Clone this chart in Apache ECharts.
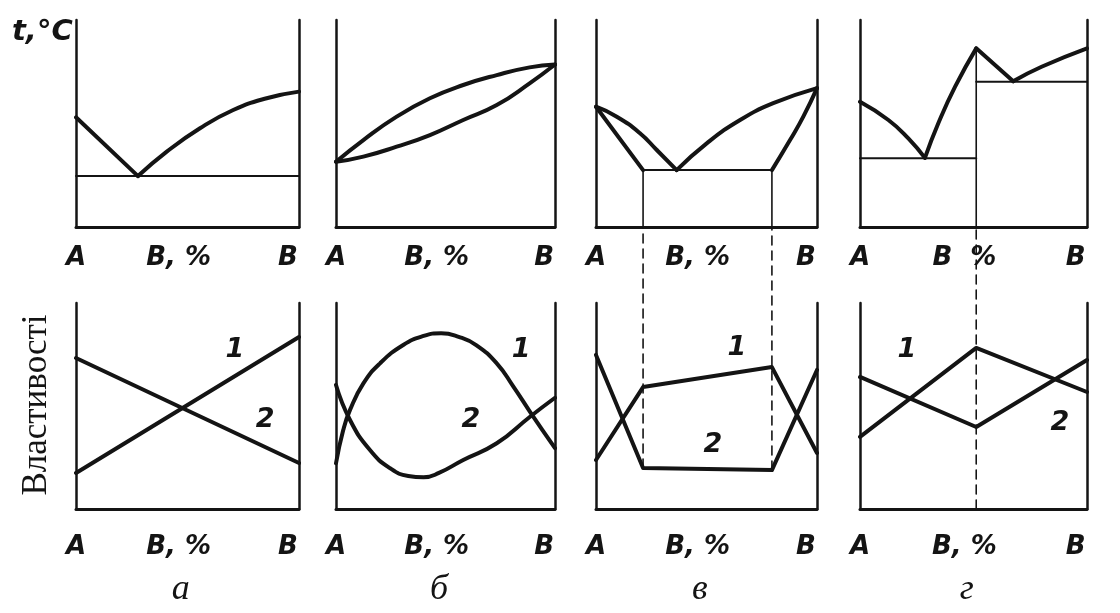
<!DOCTYPE html>
<html>
<head>
<meta charset="utf-8">
<script src="https://cdn.jsdelivr.net/npm/echarts@6/dist/echarts.min.js"></script>
<style>
  html, body { margin: 0; padding: 0; background: #fff; }
  #chart { width: 1120px; height: 613px; }
</style>
</head>
<body>
<div id="chart"></div>
<script>
// Composition axis labels (A ... B) and their positions along the 0–100 % axis
const xTickLabels = ['А', 'В, %', 'В'];
const xTickLabelsG = ['А', 'В  %', 'В'];
const xTickPos = [0, 46, 95];
const panelNames = ['а', 'б', 'в', 'г'];

// --- Phase diagrams (top row), temperature in relative units 0–100 ---
// а: eutectic system, no solubility
const aLiquidusLeft = [[0, 53], [27.8, 24.6]];
const aLiquidusRight = [[27.8, 24.6], [40.7, 36.4], [55.6, 47.7], [70.5, 56.5], [85.5, 62.2], [100, 65.4]];
const aEutectic = [[0, 24.6], [100, 24.6]];

// б: complete solid solubility
const bLiquidus = [[0, 31.5], [12.5, 42], [27.7, 53.3], [42.9, 62.2], [58.1, 68.6], [73.4, 73.4], [88.4, 77.1], [100, 78.5]];
const bSolidus = [[0, 31.5], [12.5, 34], [27.7, 38.8], [42.9, 44.4], [58.1, 51.7], [73.4, 58.9], [88.4, 69.4], [100, 78.5]];

// в: eutectic with limited solubility
const vLiquidusLeft = [[0, 58.1], [9.4, 53.3], [19.9, 45.3], [27.5, 37.2], [36.5, 27.5]];
const vSolidusLeft = [[0, 58.1], [21.3, 27.5]];
const vLiquidusRight = [[36.5, 27.5], [50.1, 40.4], [65.2, 51.7], [80.2, 59.8], [100, 67.1]];
const vSolidusRight = [[79.6, 27.5], [87.8, 42], [93.8, 53.3], [100, 67.1]];
const vEutectic = [[21.3, 27.5], [79.6, 27.5]];
const vSolvusLeft = [[21.3, 0], [21.3, 27.5]];
const vSolvusRight = [[79.6, 0], [79.6, 27.5]];

// г: chemical compound
const gLiquidusLeft = [[0, 60.5], [12.5, 51.7], [21.3, 42.8], [28.6, 33.4]];
const gLiquidusRise = [[28.6, 33.4], [34.5, 50.1], [41.9, 67.8], [51.2, 86.3]];
const gLiquidusFall = [[51.2, 86.3], [67.5, 70.4]];
const gLiquidusRight = [[67.5, 70.4], [80, 77.4], [100, 86.3]];
const gEutectic1 = [[0, 33.2], [51.2, 33.2]];
const gEutectic2 = [[51.2, 70.2], [100, 70.2]];
const gCompound = [[51.2, 0], [51.2, 86.3]];

// --- Properties (bottom row), relative units 0–100 ---
const aProp1 = [[0, 17.5], [100, 83.5]];
const aProp2 = [[0, 73.3], [100, 22.3]];
const bProp1 = [[0, 22.2], [3.3, 38.3], [6.4, 48.1], [12.5, 61], [20.1, 70.7], [30.7, 79.6], [40, 84],
                [48, 85.3], [56, 83.6], [64, 79.6], [73.4, 70.7], [81, 59.4], [88.6, 47.2], [100, 29.5]];
const bProp2 = [[0, 60.2], [6.4, 43.2], [15.5, 28.6], [24.7, 19.8], [33, 16], [40, 15.4], [47, 17.5],
                [58.1, 23.8], [73.4, 31.9], [88.6, 44.8], [100, 54]];
const vProp1 = [[0, 23.8], [21.3, 59.2], [79.6, 68.9], [100, 27.2]];
const vProp2 = [[0, 74.8], [21.3, 19.9], [79.6, 18.9], [100, 67.5]];
const gProp1 = [[0, 35], [51.2, 78.2], [100, 56.8]];
const gProp2 = [[0, 64.1], [51.2, 39.8], [100, 72.3]];

// Guide lines carried down from the phase diagrams (bottom-grid units; 136.9 reaches the upper frame)
const vGuideLeft = [[21.3, 19.9], [21.3, 136.9]];
const vGuideRight = [[79.6, 18.9], [79.6, 136.9]];
const gGuide = [[51.2, 0], [51.2, 136.9]];

// Curve numbers in each properties panel
const curveTags = [
  [['1', 71.3, 77.2], ['2', 84.8, 43.2]],
  [['1', 84.5, 77.2], ['2', 61.6, 43.2]],
  [['1', 63.8, 78.2], ['2', 52.9, 31.1]],
  [['1', 20.7, 77.2], ['2', 88.1, 41.7]]
];

// ---------- layout ----------
const colLeft = [76, 336, 596, 860];
const colWidth = [223, 219, 221, 227];
const rowTop = [20, 303];
const rowHeight = [207, 206];
const INK = '#141414';
const labelFont = '"DejaVu Sans", sans-serif';

const grids = [], xAxes = [], yAxes = [], series = [];
for (let r = 0; r < 2; r++) {
  for (let c = 0; c < 4; c++) {
    const i = r * 4 + c;
    grids.push({ left: colLeft[c], top: rowTop[r], width: colWidth[c], height: rowHeight[r] });
    const labels = (r === 0 && c === 3) ? xTickLabelsG : xTickLabels;
    xAxes.push({
      gridIndex: i, type: 'value', min: 0, max: 100,
      axisLine: { show: true, onZero: false, lineStyle: { color: INK, width: 3 } },
      axisTick: { show: false }, splitLine: { show: false },
      axisLabel: {
        customValues: xTickPos,
        formatter: v => labels[xTickPos.indexOf(v)],
        margin: r === 0 ? 18 : 25,
        color: INK, fontSize: 26, fontStyle: 'italic', fontWeight: 'bold', fontFamily: labelFont
      }
    });
  }
}
for (let i = 0; i < 8; i++) {
  yAxes.push({
    gridIndex: i, type: 'value', min: 0, max: 100, position: 'left',
    axisLine: { show: true, onZero: false, lineStyle: { color: INK, width: 2.5 } },
    axisTick: { show: false }, axisLabel: { show: false }, splitLine: { show: false }
  });
}
for (let i = 0; i < 8; i++) {
  yAxes.push({
    gridIndex: i, type: 'value', min: 0, max: 100, position: 'right',
    axisLine: { show: true, onZero: false, lineStyle: { color: INK, width: 2.5 } },
    axisTick: { show: false }, axisLabel: { show: false }, splitLine: { show: false }
  });
}

function curve(grid, data, width, opts) {
  const o = opts || {};
  series.push({
    type: 'line', xAxisIndex: grid, yAxisIndex: grid, data: data,
    showSymbol: false, symbol: 'none', silent: true, animation: false,
    smooth: o.smooth || false,
    clip: o.clip !== undefined ? o.clip : true,
    lineStyle: { color: INK, width: width, type: o.dash || 'solid', cap: 'round', join: 'round' },
    z: o.z || 3
  });
}

const THICK = 4, THIN = 2, SM = 0.5;
// top row
curve(0, aLiquidusLeft, THICK);
curve(0, aLiquidusRight, THICK, { smooth: SM });
curve(0, aEutectic, THIN);

curve(1, bLiquidus, THICK, { smooth: SM });
curve(1, bSolidus, THICK, { smooth: SM });

curve(2, vLiquidusLeft, THICK, { smooth: SM });
curve(2, vSolidusLeft, THICK);
curve(2, vLiquidusRight, THICK, { smooth: SM });
curve(2, vSolidusRight, THICK, { smooth: SM });
curve(2, vEutectic, THIN);
curve(2, vSolvusLeft, 1.6);
curve(2, vSolvusRight, 1.6);

curve(3, gLiquidusLeft, THICK, { smooth: SM });
curve(3, gLiquidusRise, THICK, { smooth: SM });
curve(3, gLiquidusFall, THICK);
curve(3, gLiquidusRight, THICK, { smooth: SM });
curve(3, gEutectic1, THIN);
curve(3, gEutectic2, THIN);
curve(3, gCompound, 1.6);

// bottom row
curve(4, aProp1, THICK);
curve(4, aProp2, THICK);
curve(5, bProp1, THICK, { smooth: SM });
curve(5, bProp2, THICK, { smooth: SM });
curve(6, vProp1, THICK);
curve(6, vProp2, THICK);
curve(7, gProp1, THICK);
curve(7, gProp2, THICK);

curve(6, vGuideLeft, 1.6, { dash: [9, 6], clip: false, z: 2 });
curve(6, vGuideRight, 1.6, { dash: [9, 6], clip: false, z: 2 });
curve(7, gGuide, 1.6, { dash: [9, 6], clip: false, z: 2 });

curveTags.forEach((tags, c) => {
  series.push({
    type: 'scatter', xAxisIndex: 4 + c, yAxisIndex: 4 + c, silent: true, animation: false,
    symbolSize: 0, itemStyle: { color: INK, opacity: 1 },
    data: tags.map(t => ({ name: t[0], value: [t[1], t[2]] })),
    label: {
      show: true, position: 'inside', formatter: '{b}', color: INK, opacity: 1,
      textBorderWidth: 0,
      fontSize: 27, fontStyle: 'italic', fontWeight: 'bold', fontFamily: labelFont
    },
    z: 5
  });
});

// Captions: temperature axis, properties axis, panel letters
const graphics = [
  {
    type: 'text', left: 12, top: 18,
    style: { text: 't,°C', fill: INK, font: 'italic bold 29px "DejaVu Sans", sans-serif' }
  },
  {
    type: 'text', x: 37, y: 405, rotation: Math.PI / 2,
    style: {
      text: 'Властивості', fill: INK, align: 'center', verticalAlign: 'middle',
      font: '35px "Liberation Serif", "DejaVu Serif", serif'
    }
  }
];
panelNames.forEach((n, c) => {
  graphics.push({
    type: 'text', x: colLeft[c] + colWidth[c] * 0.47, y: 590,
    style: {
      text: n, fill: INK, align: 'center', verticalAlign: 'middle',
      font: 'italic 36px "Liberation Serif", "DejaVu Serif", serif'
    }
  });
});

const chart = echarts.init(document.getElementById('chart'), null, { renderer: 'canvas' });
chart.setOption({
  animation: false,
  backgroundColor: '#ffffff',
  grid: grids,
  xAxis: xAxes,
  yAxis: yAxes,
  series: series,
  graphic: graphics
});
</script>
</body>
</html>
